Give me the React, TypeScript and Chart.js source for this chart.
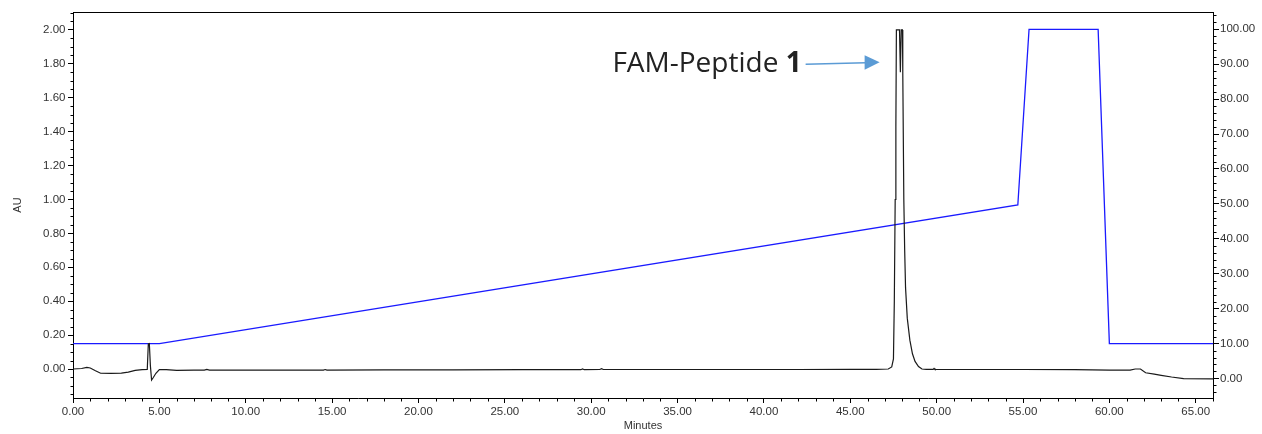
import React, { useEffect, useRef } from 'react';
import { Chart, registerables } from 'chart.js';

Chart.register(...registerables);

// Chromatogram (black trace, left axis, AU)
const chromTime = [
  0, 0.5, 0.8, 1.0, 1.3, 1.6, 2.2, 2.8, 3.2, 3.6, 4.0, 4.3, 4.36, 4.42, 4.48, 4.55, 4.65, 4.8, 5.0, 5.4,
  6.0, 7.0, 7.6, 7.75, 7.9, 9.0, 12.0, 14.5, 14.6, 14.7, 18.0, 22.0, 26.0, 29.4, 29.5, 29.6, 30.5, 30.6,
  30.7, 34.0, 38.0, 42.0, 45.0, 46.5, 47.2, 47.4, 47.5, 47.55, 47.6, 47.64, 47.67, 47.85, 47.9, 47.95,
  48.02, 48.04, 48.1, 48.15, 48.2, 48.3, 48.45, 48.6, 48.75, 48.95, 49.15, 49.4, 49.8, 49.85, 49.9, 52.0,
  55.0, 58.0, 60.0, 61.2, 61.5, 61.8, 62.1, 62.6, 63.0, 63.6, 64.3, 66.0,
];
const chromAU = [
  0, 0.003, 0.01, 0.006, -0.01, -0.025, -0.026, -0.024, -0.018, -0.008, -0.004, -0.002, 0.148, 0.15, 0.02,
  -0.065, -0.05, -0.025, -0.003, -0.004, -0.008, -0.007, -0.006, -0.002, -0.006, -0.007, -0.006, -0.006,
  -0.003, -0.006, -0.005, -0.005, -0.004, -0.004, 0.0, -0.004, -0.003, 0.002, -0.003, -0.003, -0.003,
  -0.003, -0.002, -0.002, 0.0, 0.012, 0.06, 0.4, 1.0, 1.43, 2.0, 2.0, 1.75, 2.0, 2.0, 1.75, 1.0, 0.7, 0.48,
  0.3, 0.17, 0.09, 0.045, 0.015, 0.0, -0.002, -0.002, 0.004, -0.002, -0.003, -0.003, -0.004, -0.006,
  -0.006, 0.0, 0.0, -0.022, -0.03, -0.037, -0.047, -0.057, -0.058,
];

// Gradient program (blue trace, right axis, %)
const gradTime = [0, 5.0, 54.7, 55.35, 59.35, 60.0, 66];
const gradPct = [10, 10, 49.7, 100, 100, 10, 10];

// Axes
const xRange = [0, 66];
const auRange = [-0.171, 2.106];
const pctRange = [-5.6, 104.96];
const xMajor = [0, 5, 10, 15, 20, 25, 30, 35, 40, 45, 50, 55, 60, 65];
const auMajor = [0, 0.2, 0.4, 0.6, 0.8, 1.0, 1.2, 1.4, 1.6, 1.8, 2.0];
const pctMajor = [0, 10, 20, 30, 40, 50, 60, 70, 80, 90, 100];
const xMinorStep = 1;
const auMinorStep = 0.05;
const pctMinorStep = 2;

// Annotation
const annotationText = 'FAM-Peptide ';
const annotationBold = '1';
const annotationTip = { x: 46.7, y: 1.81 };

const labelFont = { family: '"Liberation Sans", Arial, sans-serif', size: 11.5 };
const labelColor = '#333333';

const decorPlugin = {
  id: 'decor',
  afterDraw(chart: any) {
    const { ctx, chartArea: a, scales } = chart;
    const xs = scales.x;
    const ys = scales.y;
    const y2 = scales.y2;
    ctx.save();
    ctx.strokeStyle = '#000';
    ctx.lineWidth = 1;
    // top border
    ctx.beginPath();
    ctx.moveTo(a.left, Math.round(a.top) + 0.5);
    ctx.lineTo(a.right, Math.round(a.top) + 0.5);
    ctx.stroke();
    // minor ticks
    ctx.beginPath();
    const by = Math.round(a.bottom) + 0.5;
    for (let v = xRange[0]; v <= xRange[1] + 1e-9; v += xMinorStep) {
      if (Math.abs(v / 5 - Math.round(v / 5)) < 1e-6) continue;
      const px = Math.round(xs.getPixelForValue(v)) + 0.5;
      ctx.moveTo(px, by);
      ctx.lineTo(px, by + 3);
    }
    const lx = Math.round(a.left) + 0.5;
    const startAu = Math.ceil(auRange[0] / auMinorStep) * auMinorStep;
    for (let v = startAu; v <= auRange[1] + 1e-9; v += auMinorStep) {
      if (Math.abs(v / 0.2 - Math.round(v / 0.2)) < 1e-6) continue;
      const py = Math.round(ys.getPixelForValue(v)) + 0.5;
      ctx.moveTo(lx, py);
      ctx.lineTo(lx - 3, py);
    }
    const rx = Math.round(a.right) + 0.5;
    const startP = Math.ceil(pctRange[0] / pctMinorStep) * pctMinorStep;
    for (let v = startP; v <= pctRange[1] + 1e-9; v += pctMinorStep) {
      if (Math.abs(v / 10 - Math.round(v / 10)) < 1e-6) continue;
      const py = Math.round(y2.getPixelForValue(v)) + 0.5;
      ctx.moveTo(rx, py);
      ctx.lineTo(rx + 3, py);
    }
    ctx.stroke();

    // annotation arrow + text
    const tx = xs.getPixelForValue(annotationTip.x);
    const ty = ys.getPixelForValue(annotationTip.y);
    const arrowColor = '#5b9bd5';
    ctx.strokeStyle = arrowColor;
    ctx.fillStyle = arrowColor;
    ctx.lineWidth = 1.5;
    ctx.beginPath();
    ctx.moveTo(tx - 74, ty + 2);
    ctx.lineTo(tx - 14, ty + 0.5);
    ctx.stroke();
    ctx.beginPath();
    ctx.moveTo(tx, ty);
    ctx.lineTo(tx - 15, ty - 7);
    ctx.lineTo(tx - 15, ty + 7.5);
    ctx.closePath();
    ctx.fill();

    ctx.fillStyle = '#222222';
    ctx.textBaseline = 'alphabetic';
    ctx.textAlign = 'left';
    ctx.font = 'bold 28px "Open Sans", sans-serif';
    const wb = ctx.measureText(annotationBold).width;
    ctx.font = '28px "Open Sans", sans-serif';
    const wr = ctx.measureText(annotationText).width;
    const endX = tx - 78;
    const baseY = ty + 10;
    ctx.fillText(annotationText, endX - wb - wr, baseY);
    ctx.font = 'bold 28px "Open Sans", sans-serif';
    ctx.fillText(annotationBold, endX - wb, baseY);
    ctx.restore();
  },
};

export default function App() {
  const ref = useRef<HTMLCanvasElement | null>(null);
  useEffect(() => {
    if (!ref.current) return;
    const chart = new Chart(ref.current, {
      type: 'scatter',
      data: {
        datasets: [
          {
            label: 'AU',
            data: chromTime.map((t, i) => ({ x: t, y: chromAU[i] })),
            showLine: true,
            borderColor: '#1a1a1a',
            borderWidth: 1.2,
            pointRadius: 0,
            tension: 0,
            yAxisID: 'y',
          },
          {
            label: '%B',
            data: gradTime.map((t, i) => ({ x: t, y: gradPct[i] })),
            showLine: true,
            borderColor: '#1a1aff',
            borderWidth: 1.3,
            pointRadius: 0,
            tension: 0,
            yAxisID: 'y2',
          },
        ],
      },
      options: {
        responsive: false,
        animation: false,
        layout: { padding: { top: 12, left: 0, right: 0, bottom: 0 } },
        plugins: { legend: { display: false }, tooltip: { enabled: false } },
        scales: {
          x: {
            type: 'linear',
            position: 'bottom',
            min: xRange[0],
            max: xRange[1],
            afterBuildTicks: (s: any) => {
              s.ticks = xMajor.map((v) => ({ value: v }));
            },
            afterFit: (s: any) => {
              s.height = 36;
            },
            ticks: {
              autoSkip: false,
              maxRotation: 0,
              padding: 2,
              color: labelColor,
              font: labelFont,
              callback: (v: any) => Number(v).toFixed(2),
            },
            grid: { drawOnChartArea: false, tickLength: 5, color: '#000' },
            border: { color: '#000', width: 1 },
            title: {
              display: true,
              text: 'Minutes',
              color: labelColor,
              font: { family: '"Liberation Sans", Arial, sans-serif', size: 11 },
              padding: { top: 0, bottom: 1.4 },
            },
          },
          y: {
            type: 'linear',
            position: 'left',
            min: auRange[0],
            max: auRange[1],
            afterBuildTicks: (s: any) => {
              s.ticks = auMajor.map((v) => ({ value: v }));
            },
            afterFit: (s: any) => {
              s.width = 73;
            },
            ticks: {
              padding: 2.5,
              color: labelColor,
              font: labelFont,
              callback: (v: any) => Number(v).toFixed(2),
            },
            grid: { drawOnChartArea: false, tickLength: 5, color: '#000' },
            border: { color: '#000', width: 1 },
            title: {
              display: true,
              text: 'AU',
              color: labelColor,
              font: { family: '"Liberation Sans", Arial, sans-serif', size: 11 },
              padding: { top: 11.4, bottom: 0 },
            },
          },
          y2: {
            type: 'linear',
            position: 'right',
            min: pctRange[0],
            max: pctRange[1],
            afterBuildTicks: (s: any) => {
              s.ticks = pctMajor.map((v) => ({ value: v }));
            },
            afterFit: (s: any) => {
              s.width = 49;
            },
            ticks: {
              padding: 1,
              color: labelColor,
              font: labelFont,
              callback: (v: any) => Number(v).toFixed(2),
            },
            grid: { drawOnChartArea: false, tickLength: 6, color: '#000' },
            border: { color: '#000', width: 1 },
          },
        },
      },
      plugins: [decorPlugin],
    } as any);
    return () => chart.destroy();
  }, []);
  return (
    <div style={{ position: 'absolute', left: 0, top: 0, width: 1262, height: 434, background: '#fff' }}>
      <canvas ref={ref} width={1262} height={434} />
    </div>
  );
}
